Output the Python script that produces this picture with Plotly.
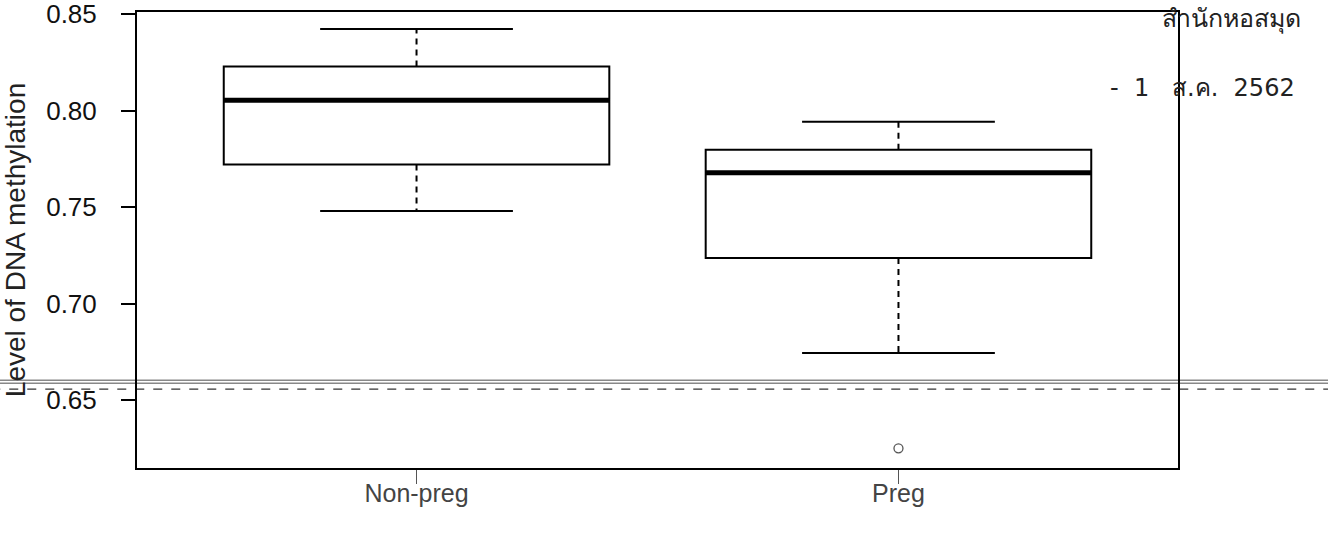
import plotly.graph_objects as go

# ---- data ----
categories = ["Non-preg", "Preg"]
positions = [1, 2]
q1 = [0.7721, 0.7237]
median = [0.8055, 0.7679]
q3 = [0.8229, 0.7798]
lower_whisker = [0.7480, 0.6744]
upper_whisker = [0.8424, 0.7943]
outlier_group = [2]
outlier_values = [0.6250]
y_ticks = [0.65, 0.70, 0.75, 0.80, 0.85]
y_tick_labels = ["0.65", "0.70", "0.75", "0.80", "0.85"]
stamp_title = "สำนักหอสมุด"
stamp_date = "-  1   ส.ค.  2562"

BOX_W = 0.8
CAP_W = 0.4
FONT = "Liberation Sans, Arial, Helvetica, sans-serif"

fig = go.Figure()

for i, name in enumerate(categories):
    p = positions[i]
    # box body
    fig.add_trace(go.Box(
        x=[p], q1=[q1[i]], median=[median[i]], q3=[q3[i]],
        lowerfence=[q1[i]], upperfence=[q3[i]],
        width=BOX_W, whiskerwidth=0,
        line=dict(color="black", width=2), fillcolor="white",
        boxpoints=False, showlegend=False, name=name, hoverinfo="skip",
    ))
    # thick median
    fig.add_trace(go.Scatter(
        x=[p - BOX_W / 2, p + BOX_W / 2], y=[median[i], median[i]],
        mode="lines", line=dict(color="black", width=5),
        showlegend=False, hoverinfo="skip",
    ))
    # dashed whiskers
    fig.add_trace(go.Scatter(
        x=[p, p, None, p, p],
        y=[q3[i], upper_whisker[i], None, q1[i], lower_whisker[i]],
        mode="lines", line=dict(color="black", width=2, dash="6px,5px"),
        showlegend=False, hoverinfo="skip",
    ))
    # staples
    fig.add_trace(go.Scatter(
        x=[p - CAP_W / 2, p + CAP_W / 2, None, p - CAP_W / 2, p + CAP_W / 2],
        y=[upper_whisker[i], upper_whisker[i], None, lower_whisker[i], lower_whisker[i]],
        mode="lines", line=dict(color="black", width=2),
        showlegend=False, hoverinfo="skip",
    ))

# outlier
fig.add_trace(go.Scatter(
    x=outlier_group, y=outlier_values, mode="markers",
    marker=dict(symbol="circle-open", size=9, color="#555", line=dict(width=1.3)),
    showlegend=False, hoverinfo="skip",
))

# scan artefact lines across the page
for yy, col, w, dash in [(0.1926, "#888", 1.5, "solid"), (0.186, "#888", 1.5, "solid"),
                         (0.1729, "#333", 1.2, "dash")]:
    fig.add_shape(type="line", xref="paper", yref="paper", x0=-0.14, x1=1.15,
                  y0=yy, y1=yy, line=dict(color=col, width=w, dash=dash), layer="below")

fig.add_annotation(text=stamp_title, xref="paper", yref="paper", x=1.051, y=0.988,
                   showarrow=False, font=dict(family="Noto Sans, DejaVu Sans, sans-serif",
                                              size=25, color="#222"),
                   xanchor="center", yanchor="middle")
fig.add_annotation(text=stamp_date, xref="paper", yref="paper", x=1.1143, y=0.833,
                   showarrow=False, font=dict(family="DejaVu Sans, sans-serif",
                                              size=24, color="#222"),
                   xanchor="right", yanchor="middle")

fig.update_layout(
    width=1328, height=538,
    margin=dict(l=137, r=150, t=12, b=70),
    paper_bgcolor="white", plot_bgcolor="white",
    font=dict(family=FONT, color="#111"),
    xaxis=dict(
        range=[0.42, 2.58], tickmode="array", tickvals=positions, ticktext=categories,
        ticks="outside", ticklen=14, tickwidth=1, tickcolor="#555",
        tickfont=dict(size=25, color="#444"), automargin=False,
        ticklabelstandoff=-12, ticklabeloverflow="allow",
        showline=True, linecolor="black", linewidth=2, mirror=True,
        showgrid=False, zeroline=False,
    ),
    yaxis=dict(
        range=[0.6148, 0.8512], tickmode="array", tickvals=y_ticks, ticktext=y_tick_labels,
        ticks="outside", ticklen=14, tickwidth=2, tickcolor="black",
        tickfont=dict(size=26, color="#111"), ticklabelstandoff=19, automargin=False,
        ticklabeloverflow="allow",
        showline=True, linecolor="black", linewidth=2, mirror=True,
        showgrid=False, zeroline=False,
        title=dict(text="Level of DNA methylation", font=dict(size=28, color="#222"), standoff=12),
    ),
)

fig.write_html(
    "out.html",
    config={"displayModeBar": False},
    post_script="document.body.style.margin='0';document.body.style.overflow='hidden';",
)
